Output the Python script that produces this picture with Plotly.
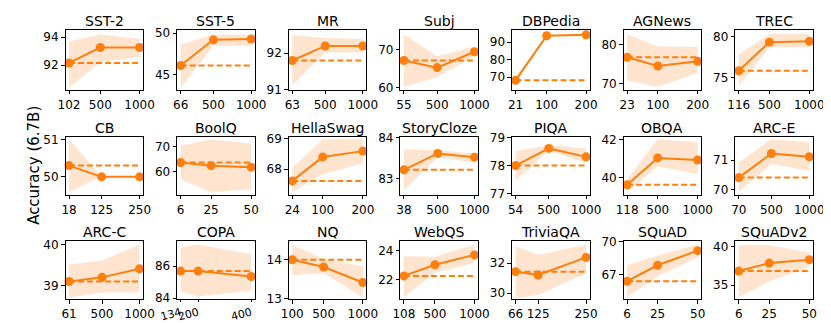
import plotly.graph_objects as go

# dati: 21 task, 3 punti ciascuno
names = ["SST-2", "SST-5", "MR", "Subj", "DBPedia", "AGNews", "TREC",
         "CB", "BoolQ", "HellaSwag", "StoryCloze", "PIQA", "OBQA", "ARC-E",
         "ARC-C", "COPA", "NQ", "WebQS", "TriviaQA", "SQuAD", "SQuADv2"]

x_vals = [
    [102, 500, 1000], [66, 500, 1000], [63, 500, 1000], [55, 500, 1000],
    [21, 100, 200], [23, 100, 200], [116, 500, 1000],
    [18, 125, 250], [6, 25, 50], [24, 100, 200], [38, 500, 1000],
    [54, 500, 1000], [118, 500, 1000], [70, 500, 1000],
    [61, 500, 1000], [134, 200, 400], [100, 500, 1000], [108, 500, 1000],
    [66, 125, 250], [6, 25, 50], [6, 25, 50],
]

acc = [
    [92.15, 93.26, 93.26], [46.1, 49.2, 49.3], [91.8, 92.2, 92.2], [67.1, 65.25, 69.4],
    [68.2, 93.6, 94.1], [76.75, 74.5, 75.7], [75.85, 79.3, 79.4],
    [50.3, 50.0, 50.0], [63.6, 62.3, 61.7], [67.61, 68.4, 68.59], [83.21, 83.61, 83.52],
    [78.0, 78.61, 78.31], [39.63, 41.03, 40.92], [70.41, 71.22, 71.11],
    [39.1, 39.2, 39.41], [85.7, 85.7, 85.36], [14.0, 13.81, 13.41], [22.26, 23.02, 23.69],
    [31.43, 31.21, 32.38], [66.42, 67.87, 69.2], [36.83, 37.88, 38.33],
]

band_lo = [
    [90.37, 92.2, 92.6], [43.4, 48.5, 48.5], [91.13, 92.02, 92.02], [60.25, 62.75, 68.2],
    [66.5, 93.0, 93.6], [70.8, 69.2, 72.8], [74.05, 78.65, 78.7],
    [49.6, 50.0, 50.0], [56.7, 51.6, 52.6], [67.24, 67.82, 68.19], [82.71, 83.52, 83.38],
    [77.48, 78.53, 78.09], [39.25, 40.58, 40.2], [69.93, 70.87, 70.63],
    [38.71, 38.83, 38.83], [84.4, 84.1, 84.46], [13.6, 13.65, 13.02], [20.8, 22.48, 23.13],
    [29.64, 29.87, 31.32], [64.96, 66.86, 68.6], [33.4, 35.5, 37.4],
]

band_hi = [
    [93.7, 94.2, 93.9], [48.65, 49.8, 49.8], [92.5, 92.42, 92.39], [74.0, 68.2, 70.7],
    [69.8, 94.2, 94.6], [82.6, 79.5, 79.4], [77.8, 80.3, 80.3],
    [51.0, 50.0, 50.0], [70.4, 73.0, 71.3], [68.03, 68.98, 68.98], [83.71, 83.69, 83.61],
    [78.51, 78.73, 78.61], [39.92, 42.0, 41.83], [70.92, 71.7, 71.59],
    [39.51, 39.61, 40.0], [87.16, 87.36, 86.76], [14.39, 14.02, 13.83], [23.59, 23.57, 24.39],
    [33.12, 32.55, 33.23], [67.87, 68.75, 69.77], [40.2, 40.2, 39.25],
]

baseline = [92.15, 46.1, 91.8, 67.1, 68.2, 76.75, 75.85,
            50.3, 63.6, 67.61, 83.21, 78.0, 39.63, 70.41,
            39.1, 85.7, 14.0, 22.26, 31.43, 66.42, 36.83]

y_ticks = [
    [92, 94], [45, 50], [91, 92], [60, 70], [70, 80, 90], [70, 80], [75, 80],
    [50, 51], [60, 70], [68, 69], [83, 84], [77, 78, 79], [40, 42], [70, 71],
    [39, 40], [84, 86], [13, 14], [22, 24], [30, 32], [67, 70], [35, 40],
]

y_ranges = [
    [90.23, 94.5], [43.19, 50.35], [91.0, 92.63], [59.5, 75.0], [62.9, 96.7], [68.5, 83.6], [73.58, 80.73],
    [49.52, 51.05], [50.4, 73.8], [67.15, 69.04], [82.6, 84.0], [76.96, 79.0], [39.1, 42.1], [69.83, 71.76],
    [38.67, 40.09], [83.94, 87.6], [12.98, 14.49], [20.68, 24.65], [29.6, 33.49], [64.79, 70.1], [33.16, 40.8],
]

W, H = 831, 323
ORANGE = "#ff7f0e"
BAND = "rgba(255,127,14,0.2)"
FONT = "DejaVu Sans"

# posizioni dei riquadri in pixel
col_left = [41 + i * 115.8 for i in range(7)]
box_w = 80.5
row_top = [16, 128, 236]
row_bot = [78, 188, 297]

fig = go.Figure()
layout = {}
annotations = []

for k, name in enumerate(names):
    r, c = divmod(k, 7)
    idx = k + 1
    xa = "x" if idx == 1 else f"x{idx}"
    ya = "y" if idx == 1 else f"y{idx}"
    xs = x_vals[k]

    # banda
    fig.add_trace(go.Scatter(x=xs, y=band_hi[k], mode="lines", line=dict(width=0),
                             xaxis=xa, yaxis=ya, showlegend=False, hoverinfo="skip"))
    fig.add_trace(go.Scatter(x=xs, y=band_lo[k], mode="lines", line=dict(width=0),
                             fill="tonexty", fillcolor=BAND,
                             xaxis=xa, yaxis=ya, showlegend=False, hoverinfo="skip"))
    # linea tratteggiata
    fig.add_trace(go.Scatter(x=[xs[0], xs[-1]], y=[baseline[k]] * 2, mode="lines",
                             line=dict(color=ORANGE, width=2, dash="6px,3px"),
                             xaxis=xa, yaxis=ya, showlegend=False))
    # linea con marker
    fig.add_trace(go.Scatter(x=xs, y=acc[k], mode="lines+markers",
                             line=dict(color=ORANGE, width=2),
                             marker=dict(color=ORANGE, size=9),
                             xaxis=xa, yaxis=ya, showlegend=False, cliponaxis=False))

    span = xs[-1] - xs[0]
    x0, x1 = col_left[c], col_left[c] + box_w
    y0, y1 = row_top[r], row_bot[r]
    axis_common = dict(showline=True, linecolor="black", linewidth=1, mirror=True,
                       ticks="outside", ticklen=3.5, tickwidth=1, tickcolor="black",
                       showgrid=False, zeroline=False, ticklabeloverflow="allow",
                       tickfont=dict(family=FONT, size=12, color="black"))
    xaxis = dict(axis_common, domain=[x0 / W, x1 / W], anchor=ya,
                 range=[xs[0] - 0.05 * span, xs[-1] + 0.05 * span],
                 tickvals=xs, ticktext=[str(v) for v in xs], tickangle=0)
    if name == "COPA":
        # etichette ruotate e un po' piu piccole per stare nel riquadro
        xaxis.update(tickangle=-15, ticklen=2,
                     tickfont=dict(family=FONT, size=11, color="black"))
    layout["xaxis" if idx == 1 else f"xaxis{idx}"] = xaxis
    layout["yaxis" if idx == 1 else f"yaxis{idx}"] = dict(
        axis_common, domain=[1 - y1 / H, 1 - y0 / H], anchor=xa,
        range=y_ranges[k], tickvals=y_ticks[k], ticktext=[str(v) for v in y_ticks[k]])
    annotations.append(dict(text=name, x=(x0 + x1) / 2 / W, y=1 - y0 / H,
                            xref="paper", yref="paper", xanchor="center", yanchor="bottom",
                            yshift=-1, showarrow=False,
                            font=dict(family=FONT, size=14, color="black")))

annotations.append(dict(text="Accuracy (6.7B)", x=9 / W, y=1 - 157 / H,
                        xref="paper", yref="paper", xanchor="center", yanchor="middle",
                        textangle=-90, showarrow=False,
                        font=dict(family=FONT, size=15, color="black")))

fig.update_layout(layout)
fig.update_layout(width=W, height=H, margin=dict(l=0, r=0, t=0, b=0),
                  plot_bgcolor="white", paper_bgcolor="white",
                  annotations=annotations, showlegend=False)

fig.write_html("out.html")
